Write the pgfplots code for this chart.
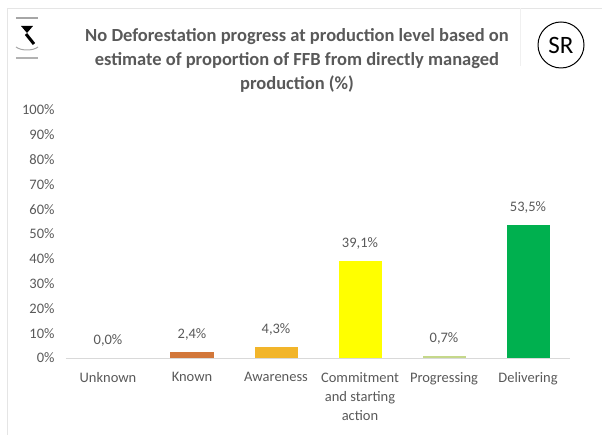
\documentclass[border=0pt]{standalone}
\usepackage{pgfplots}
\pgfplotsset{compat=1.18}
\usepackage{fontspec}
\setmainfont{Carlito}
\definecolor{txt}{HTML}{595959}
\definecolor{known}{HTML}{D2773A}
\definecolor{aware}{HTML}{F2B52A}
\definecolor{commit}{HTML}{FFFF00}
\definecolor{progr}{HTML}{C5D88A}
\definecolor{deliv}{HTML}{00B04F}
\begin{document}
\begin{tikzpicture}
\path[use as bounding box] (-66pt,-77pt) rectangle (536pt,358pt);
\draw[gray!20, line width=0.8pt] (-59pt,-77pt) -- (-59pt,350pt) -- (536pt,350pt);
\draw[gray!12, line width=0.8pt] (454pt,350pt) -- (454pt,292pt);
\begin{axis}[
  at={(0pt,0pt)}, anchor=south west,
  scale only axis,
  width=504pt, height=248pt,
  ybar, bar width=43pt, bar shift=0pt,
  xmin=-0.5, xmax=5.5,
  ymin=0, ymax=100,
  axis x line*=bottom,
  axis y line*=left,
  x axis line style={gray!30, line width=0.8pt, -},
  y axis line style={draw=none},
  xtick={0,...,5},
  xticklabels={Unknown,Known,Awareness,{Commitment\\and starting\\action},Progressing,Delivering},
  x tick label style={font=\fontsize{14.5}{19}\selectfont, text=txt, align=center, yshift=-11pt},
  ytick={0,10,...,100},
  yticklabel={\pgfmathprintnumber{\tick}\%},
  y tick label style={font=\fontsize{14.5}{15}\selectfont, text=txt, xshift=-8pt},
  /pgf/number format/assume math mode=true,
  major tick length=0pt,
  nodes near coords={\pgfmathprintnumber[fixed, fixed zerofill, precision=1, use comma]{\pgfplotspointmeta}\%},
  nodes near coords style={font=\fontsize{14.5}{15}\selectfont, text=txt, yshift=8pt},
  point meta=y,
  clip=false,
]
\addplot[draw=none, fill=none] coordinates {(0,0)};
\addplot[draw=none, fill=known] coordinates {(1,2.4)};
\addplot[draw=none, fill=aware] coordinates {(2,4.3)};
\addplot[draw=none, fill=commit] coordinates {(3,39.1)};
\addplot[draw=none, fill=progr] coordinates {(4,0.7)};
\addplot[draw=none, fill=deliv] coordinates {(5,53.5)};
\end{axis}
\node[font=\bfseries\fontsize{18.5}{24}\selectfont, text=txt, align=center] at (231pt,298pt)
  {No Deforestation progress at production level based on\\estimate of proportion of FFB from directly managed\\production (\%)};
\node[draw=black, circle, line width=1pt, minimum size=46pt, inner sep=0pt, font=\fontsize{25}{25}\selectfont] at (495pt,313pt) {SR};
% logo
\draw[gray!70, line width=1.2pt] (-50pt,340pt) -- (-28pt,340pt);
\fill[black] (-45pt,332pt) -- (-33pt,332pt) -- (-39pt,325pt) -- cycle;
\draw[black, line width=3pt] (-40pt,324pt) -- (-32pt,314pt);
\draw[gray!70, line width=1pt] (-50pt,311pt) .. controls (-45pt,307pt) and (-33pt,307pt) .. (-28pt,311pt);
\draw[gray!60, line width=1.5pt] (-50pt,300pt) -- (-28pt,300pt);
\end{tikzpicture}
\end{document}
